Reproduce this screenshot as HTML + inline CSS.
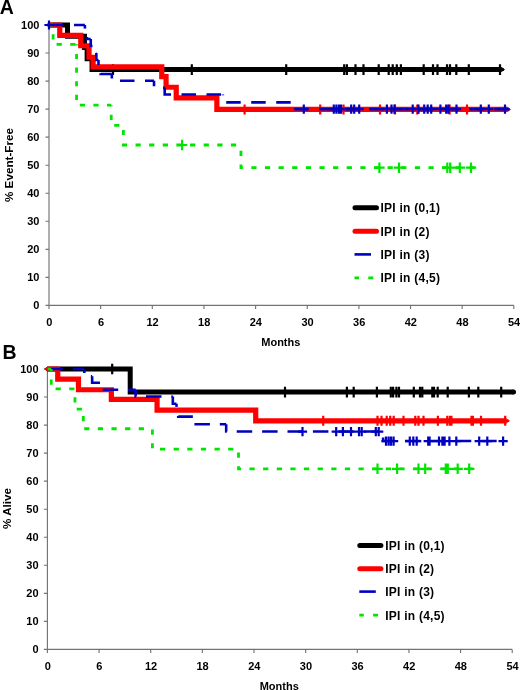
<!DOCTYPE html>
<html><head><meta charset="utf-8"><style>
html,body{margin:0;padding:0;background:#fff;}
svg{display:block;will-change:transform;}
</style></head><body>
<svg width="520" height="690" viewBox="0 0 520 690">
<rect width="520" height="690" fill="#fff"/>
<text x="-0.2" y="13.8" style="font-family:'Liberation Sans',sans-serif;font-weight:bold;font-size:19.5px">A</text>
<path d="M49 25V305.4H513.83M45.5 305.4H49M45.5 277.36H49M45.5 249.32H49M45.5 221.28H49M45.5 193.24H49M45.5 165.2H49M45.5 137.16H49M45.5 109.12H49M45.5 81.08H49M45.5 53.04H49M45.5 25H49M49 305.4V308.9M100.65 305.4V308.9M152.3 305.4V308.9M203.94 305.4V308.9M255.59 305.4V308.9M307.24 305.4V308.9M358.89 305.4V308.9M410.54 305.4V308.9M462.18 305.4V308.9M513.83 305.4V308.9" stroke="#747474" stroke-width="1.15" fill="none"/>
<text x="39.4" y="309.3" text-anchor="end" style="font-family:'Liberation Sans',sans-serif;font-weight:bold;font-size:11px">0</text>
<text x="39.4" y="281.26" text-anchor="end" style="font-family:'Liberation Sans',sans-serif;font-weight:bold;font-size:11px">10</text>
<text x="39.4" y="253.22" text-anchor="end" style="font-family:'Liberation Sans',sans-serif;font-weight:bold;font-size:11px">20</text>
<text x="39.4" y="225.18" text-anchor="end" style="font-family:'Liberation Sans',sans-serif;font-weight:bold;font-size:11px">30</text>
<text x="39.4" y="197.14" text-anchor="end" style="font-family:'Liberation Sans',sans-serif;font-weight:bold;font-size:11px">40</text>
<text x="39.4" y="169.1" text-anchor="end" style="font-family:'Liberation Sans',sans-serif;font-weight:bold;font-size:11px">50</text>
<text x="39.4" y="141.06" text-anchor="end" style="font-family:'Liberation Sans',sans-serif;font-weight:bold;font-size:11px">60</text>
<text x="39.4" y="113.02" text-anchor="end" style="font-family:'Liberation Sans',sans-serif;font-weight:bold;font-size:11px">70</text>
<text x="39.4" y="84.98" text-anchor="end" style="font-family:'Liberation Sans',sans-serif;font-weight:bold;font-size:11px">80</text>
<text x="39.4" y="56.94" text-anchor="end" style="font-family:'Liberation Sans',sans-serif;font-weight:bold;font-size:11px">90</text>
<text x="39.4" y="28.9" text-anchor="end" style="font-family:'Liberation Sans',sans-serif;font-weight:bold;font-size:11px">100</text>
<text x="49.3" y="326" text-anchor="middle" style="font-family:'Liberation Sans',sans-serif;font-weight:bold;font-size:11px">0</text>
<text x="100.95" y="326" text-anchor="middle" style="font-family:'Liberation Sans',sans-serif;font-weight:bold;font-size:11px">6</text>
<text x="152.6" y="326" text-anchor="middle" style="font-family:'Liberation Sans',sans-serif;font-weight:bold;font-size:11px">12</text>
<text x="204.24" y="326" text-anchor="middle" style="font-family:'Liberation Sans',sans-serif;font-weight:bold;font-size:11px">18</text>
<text x="255.89" y="326" text-anchor="middle" style="font-family:'Liberation Sans',sans-serif;font-weight:bold;font-size:11px">24</text>
<text x="307.54" y="326" text-anchor="middle" style="font-family:'Liberation Sans',sans-serif;font-weight:bold;font-size:11px">30</text>
<text x="359.19" y="326" text-anchor="middle" style="font-family:'Liberation Sans',sans-serif;font-weight:bold;font-size:11px">36</text>
<text x="410.84" y="326" text-anchor="middle" style="font-family:'Liberation Sans',sans-serif;font-weight:bold;font-size:11px">42</text>
<text x="462.48" y="326" text-anchor="middle" style="font-family:'Liberation Sans',sans-serif;font-weight:bold;font-size:11px">48</text>
<text x="514.13" y="326" text-anchor="middle" style="font-family:'Liberation Sans',sans-serif;font-weight:bold;font-size:11px">54</text>
<text x="280.82" y="346.3" text-anchor="middle" style="font-family:'Liberation Sans',sans-serif;font-weight:bold;font-size:11px">Months</text>
<text transform="translate(9.2,165) rotate(-90)" x="0" y="3.9" text-anchor="middle" style="font-family:'Liberation Sans',sans-serif;font-weight:bold;font-size:11.7px">% Event-Free</text>
<path d="M49 25H67.51V36.22H84.46V47.43H87.13V58.65H92.04V69.58H501.78" stroke="#000000" stroke-width="5.0" fill="none"/>
<path d="M49.2 22.5L45.8 25L49.2 27.5Z" fill="#000000"/>
<path d="M501.58 67.08L504.98 69.58L501.58 72.08Z" fill="#000000"/>
<path d="M113 64.28V74.88M109 69.58H117M191.8 64.28V74.88M187.8 69.58H195.8M286.2 64.28V74.88M282.2 69.58H290.2M344.2 64.28V74.88M340.2 69.58H348.2M346.9 64.28V74.88M342.9 69.58H350.9M355.5 64.28V74.88M351.5 69.58H359.5M363.5 64.28V74.88M359.5 69.58H367.5M378.7 64.28V74.88M374.7 69.58H382.7M388.7 64.28V74.88M384.7 69.58H392.7M392.7 64.28V74.88M388.7 69.58H396.7M396.8 64.28V74.88M392.8 69.58H400.8M400.9 64.28V74.88M396.9 69.58H404.9M423.7 64.28V74.88M419.7 69.58H427.7M433 64.28V74.88M429 69.58H437M437.5 64.28V74.88M433.5 69.58H441.5M447 64.28V74.88M443 69.58H451M450 64.28V74.88M446 69.58H454M456.3 64.28V74.88M452.3 69.58H460.3M468.8 64.28V74.88M464.8 69.58H472.8M500 64.28V74.88M496 69.58H504" stroke="#000000" stroke-width="2.2" fill="none"/>
<path d="M49 25H59.76V35.37H80.76V45.75H89.03V57.25H93.07V66.78H161.76V76.59H166.07V87.25H176.23V97.9H216.86V109.4H507.81" stroke="#ff0000" stroke-width="5.2" fill="none"/>
<path d="M49.2 22.4L45.8 25L49.2 27.6Z" fill="#ff0000"/>
<path d="M507.61 106.8L511.01 109.4L507.61 112Z" fill="#ff0000"/>
<path d="M244.6 104.4V114.4M240.6 109.4H248.6M320.2 104.4V114.4M316.2 109.4H324.2M343.5 104.4V114.4M339.5 109.4H347.5M380 104.4V114.4M376 109.4H384M395 104.4V114.4M391 109.4H399M417.3 104.4V114.4M413.3 109.4H421.3M449.6 104.4V114.4M445.6 109.4H453.6M467 104.4V114.4M463 109.4H471" stroke="#ff0000" stroke-width="2.2" fill="none"/>
<path d="M49 25H53.13" stroke="#00e400" stroke-width="2.8" fill="none" stroke-dasharray="5.2 8.43" stroke-dashoffset="0"/>
<path d="M53.13 25V44.35H76.55" stroke="#00e400" stroke-width="2.8" fill="none" stroke-dasharray="5.2 8.43" stroke-dashoffset="4.44"/>
<path d="M76.55 44.35V105.19H111.24" stroke="#00e400" stroke-width="2.8" fill="none" stroke-dasharray="5.2 8.43" stroke-dashoffset="4.08"/>
<path d="M111.24 105.19V125.38H123.37" stroke="#00e400" stroke-width="2.8" fill="none" stroke-dasharray="5.2 8.43" stroke-dashoffset="4.11"/>
<path d="M123.37 125.38V145.01H240.96" stroke="#00e400" stroke-width="2.8" fill="none" stroke-dasharray="5.2 8.43" stroke-dashoffset="9.11"/>
<path d="M240.96 145.01V167.72H475.96" stroke="#00e400" stroke-width="2.8" fill="none" stroke-dasharray="5.2 8.43" stroke-dashoffset="7.84"/>
<path d="M182.1 139.81V150.21M176.9 145.01H187.3M379.4 162.52V172.92M374.2 167.72H384.6M399 162.52V172.92M393.8 167.72H404.2M447.3 162.52V172.92M442.1 167.72H452.5M450.2 162.52V172.92M445 167.72H455.4M459.8 162.52V172.92M454.6 167.72H465M471 162.52V172.92M465.8 167.72H476.2" stroke="#00e400" stroke-width="2.2" fill="none"/>
<path d="M49 25H84.9" stroke="#0000c0" stroke-width="2.6" fill="none" stroke-dasharray="14.5 10.5" stroke-dashoffset="0"/>
<path d="M84.9 25V32.01H86.88" stroke="#0000c0" stroke-width="2.6" fill="none" stroke-dasharray="14.5 10.5" stroke-dashoffset="10.9"/>
<path d="M86.88 32.01V39.02H90.75" stroke="#0000c0" stroke-width="2.6" fill="none" stroke-dasharray="14.5 10.5" stroke-dashoffset="19.89"/>
<path d="M90.75 39.02V46.03H94.62" stroke="#0000c0" stroke-width="2.6" fill="none" stroke-dasharray="14.5 10.5" stroke-dashoffset="5.77"/>
<path d="M94.62 46.03V53.04H96.34" stroke="#0000c0" stroke-width="2.6" fill="none" stroke-dasharray="14.5 10.5" stroke-dashoffset="16.65"/>
<path d="M96.34 53.04V60.05H98.5" stroke="#0000c0" stroke-width="2.6" fill="none" stroke-dasharray="14.5 10.5" stroke-dashoffset="0.38"/>
<path d="M98.5 60.05V67.06H100.65" stroke="#0000c0" stroke-width="2.6" fill="none" stroke-dasharray="14.5 10.5" stroke-dashoffset="9.55"/>
<path d="M100.65 67.06V74.07H111.84" stroke="#0000c0" stroke-width="2.6" fill="none" stroke-dasharray="14.5 10.5" stroke-dashoffset="18.71"/>
<path d="M111.84 74.07V80.8H154.02" stroke="#0000c0" stroke-width="2.6" fill="none" stroke-dasharray="14.5 10.5" stroke-dashoffset="10.11"/>
<path d="M154.02 80.8V87.81H164.69" stroke="#0000c0" stroke-width="2.6" fill="none" stroke-dasharray="14.5 10.5" stroke-dashoffset="9.02"/>
<path d="M164.69 87.81V94.54H222.88" stroke="#0000c0" stroke-width="2.6" fill="none" stroke-dasharray="14.5 10.5" stroke-dashoffset="1.46"/>
<path d="M222.88 94.54V102.39H293.47" stroke="#0000c0" stroke-width="2.6" fill="none" stroke-dasharray="14.5 10.5" stroke-dashoffset="13.83"/>
<path d="M293.47 102.39V109.12H508.67" stroke="#0000c0" stroke-width="2.6" fill="none" stroke-dasharray="14.5 10.5" stroke-dashoffset="17.54"/>
<path d="M49 20.4V29.6M44.4 25H53.6M303.8 104.52V113.72M299.2 109.12H308.4M333.8 104.52V113.72M329.2 109.12H338.4M336.4 104.52V113.72M331.8 109.12H341M339 104.52V113.72M334.4 109.12H343.6M341 104.52V113.72M336.4 109.12H345.6M351.2 104.52V113.72M346.6 109.12H355.8M354.2 104.52V113.72M349.6 109.12H358.8M359.2 104.52V113.72M354.6 109.12H363.8M386.9 104.52V113.72M382.3 109.12H391.5M391.5 104.52V113.72M386.9 109.12H396.1M394.5 104.52V113.72M389.9 109.12H399.1M412.7 104.52V113.72M408.1 109.12H417.3M418.5 104.52V113.72M413.9 109.12H423.1M424.2 104.52V113.72M419.6 109.12H428.8M427.7 104.52V113.72M423.1 109.12H432.3M431.2 104.52V113.72M426.6 109.12H435.8M440.4 104.52V113.72M435.8 109.12H445M446.2 104.52V113.72M441.6 109.12H450.8M448.5 104.52V113.72M443.9 109.12H453.1M456.5 104.52V113.72M451.9 109.12H461.1M480.8 104.52V113.72M476.2 109.12H485.4M488.8 104.52V113.72M484.2 109.12H493.4M505 104.52V113.72M500.4 109.12H509.6" stroke="#0000c0" stroke-width="2.2" fill="none"/>
<path d="M355 207.8H376.5" stroke="#000000" stroke-width="5" stroke-linecap="round"/>
<path d="M355 231.2H376.5" stroke="#ff0000" stroke-width="5" stroke-linecap="round"/>
<path d="M354.5 254.4H371" stroke="#0000c0" stroke-width="2.6"/>
<path d="M354.5 277.8h4.5M368.3 277.8h5" stroke="#00e400" stroke-width="2.8"/>
<text x="380.5" y="212.1" style="font-family:'Liberation Sans',sans-serif;font-weight:bold;font-size:12px;letter-spacing:0.25px">IPI in (0,1)</text>
<text x="380.5" y="235.5" style="font-family:'Liberation Sans',sans-serif;font-weight:bold;font-size:12px;letter-spacing:0.25px">IPI in (2)</text>
<text x="380.5" y="258.7" style="font-family:'Liberation Sans',sans-serif;font-weight:bold;font-size:12px;letter-spacing:0.25px">IPI in (3)</text>
<text x="380.5" y="282.1" style="font-family:'Liberation Sans',sans-serif;font-weight:bold;font-size:12px;letter-spacing:0.25px">IPI in (4,5)</text>
<text x="2.4" y="359.3" style="font-family:'Liberation Sans',sans-serif;font-weight:bold;font-size:19.5px">B</text>
<path d="M47.4 369V649.4H512.23M43.9 649.4H47.4M43.9 621.36H47.4M43.9 593.32H47.4M43.9 565.28H47.4M43.9 537.24H47.4M43.9 509.2H47.4M43.9 481.16H47.4M43.9 453.12H47.4M43.9 425.08H47.4M43.9 397.04H47.4M43.9 369H47.4M47.4 649.4V652.9M99.05 649.4V652.9M150.7 649.4V652.9M202.34 649.4V652.9M253.99 649.4V652.9M305.64 649.4V652.9M357.29 649.4V652.9M408.94 649.4V652.9M460.58 649.4V652.9M512.23 649.4V652.9" stroke="#747474" stroke-width="1.15" fill="none"/>
<text x="38.6" y="653.3" text-anchor="end" style="font-family:'Liberation Sans',sans-serif;font-weight:bold;font-size:11px">0</text>
<text x="38.6" y="625.26" text-anchor="end" style="font-family:'Liberation Sans',sans-serif;font-weight:bold;font-size:11px">10</text>
<text x="38.6" y="597.22" text-anchor="end" style="font-family:'Liberation Sans',sans-serif;font-weight:bold;font-size:11px">20</text>
<text x="38.6" y="569.18" text-anchor="end" style="font-family:'Liberation Sans',sans-serif;font-weight:bold;font-size:11px">30</text>
<text x="38.6" y="541.14" text-anchor="end" style="font-family:'Liberation Sans',sans-serif;font-weight:bold;font-size:11px">40</text>
<text x="38.6" y="513.1" text-anchor="end" style="font-family:'Liberation Sans',sans-serif;font-weight:bold;font-size:11px">50</text>
<text x="38.6" y="485.06" text-anchor="end" style="font-family:'Liberation Sans',sans-serif;font-weight:bold;font-size:11px">60</text>
<text x="38.6" y="457.02" text-anchor="end" style="font-family:'Liberation Sans',sans-serif;font-weight:bold;font-size:11px">70</text>
<text x="38.6" y="428.98" text-anchor="end" style="font-family:'Liberation Sans',sans-serif;font-weight:bold;font-size:11px">80</text>
<text x="38.6" y="400.94" text-anchor="end" style="font-family:'Liberation Sans',sans-serif;font-weight:bold;font-size:11px">90</text>
<text x="38.6" y="372.9" text-anchor="end" style="font-family:'Liberation Sans',sans-serif;font-weight:bold;font-size:11px">100</text>
<text x="47.7" y="670.1" text-anchor="middle" style="font-family:'Liberation Sans',sans-serif;font-weight:bold;font-size:11px">0</text>
<text x="99.35" y="670.1" text-anchor="middle" style="font-family:'Liberation Sans',sans-serif;font-weight:bold;font-size:11px">6</text>
<text x="151" y="670.1" text-anchor="middle" style="font-family:'Liberation Sans',sans-serif;font-weight:bold;font-size:11px">12</text>
<text x="202.64" y="670.1" text-anchor="middle" style="font-family:'Liberation Sans',sans-serif;font-weight:bold;font-size:11px">18</text>
<text x="254.29" y="670.1" text-anchor="middle" style="font-family:'Liberation Sans',sans-serif;font-weight:bold;font-size:11px">24</text>
<text x="305.94" y="670.1" text-anchor="middle" style="font-family:'Liberation Sans',sans-serif;font-weight:bold;font-size:11px">30</text>
<text x="357.59" y="670.1" text-anchor="middle" style="font-family:'Liberation Sans',sans-serif;font-weight:bold;font-size:11px">36</text>
<text x="409.24" y="670.1" text-anchor="middle" style="font-family:'Liberation Sans',sans-serif;font-weight:bold;font-size:11px">42</text>
<text x="460.88" y="670.1" text-anchor="middle" style="font-family:'Liberation Sans',sans-serif;font-weight:bold;font-size:11px">48</text>
<text x="512.53" y="670.1" text-anchor="middle" style="font-family:'Liberation Sans',sans-serif;font-weight:bold;font-size:11px">54</text>
<text x="279.22" y="689.6" text-anchor="middle" style="font-family:'Liberation Sans',sans-serif;font-weight:bold;font-size:11px">Months</text>
<text transform="translate(7.5,508.5) rotate(-90)" x="0" y="3.9" text-anchor="middle" style="font-family:'Liberation Sans',sans-serif;font-weight:bold;font-size:11.7px">% Alive</text>
<path d="M47.4 369H130.21V392.1H513.52" stroke="#000000" stroke-width="5.0" fill="none"/>
<path d="M47.6 366.5L44.2 369L47.6 371.5Z" fill="#000000"/>
<circle cx="513.52" cy="392.1" r="2.5" fill="#000000"/>
<path d="M112.2 363.7V374.3M108.2 369H116.2M285 386.8V397.4M281 392.1H289M346.9 386.8V397.4M342.9 392.1H350.9M353.7 386.8V397.4M349.7 392.1H357.7M376.9 386.8V397.4M372.9 392.1H380.9M390.8 386.8V397.4M386.8 392.1H394.8M393.1 386.8V397.4M389.1 392.1H397.1M396.4 386.8V397.4M392.4 392.1H400.4M399 386.8V397.4M395 392.1H403M413.8 386.8V397.4M409.8 392.1H417.8M420 386.8V397.4M416 392.1H424M422.3 386.8V397.4M418.3 392.1H426.3M432.3 386.8V397.4M428.3 392.1H436.3M434 386.8V397.4M430 392.1H438M437.7 386.8V397.4M433.7 392.1H441.7M447.7 386.8V397.4M443.7 392.1H451.7M468.9 386.8V397.4M464.9 392.1H472.9M478.3 386.8V397.4M474.3 392.1H482.3M501.2 386.8V397.4M497.2 392.1H505.2" stroke="#000000" stroke-width="2.2" fill="none"/>
<path d="M47.4 369H57.73V379.09H78.47V389.75H111.36V399.28H157.07V410.22H255.71V420.87H506.46" stroke="#ff0000" stroke-width="5.2" fill="none"/>
<path d="M47.6 366.4L44.2 369L47.6 371.6Z" fill="#ff0000"/>
<path d="M506.26 418.27L509.66 420.87L506.26 423.47Z" fill="#ff0000"/>
<path d="M323.2 415.87V425.87M319.2 420.87H327.2M377.5 415.87V425.87M373.5 420.87H381.5M381.5 415.87V425.87M377.5 420.87H385.5M386.7 415.87V425.87M382.7 420.87H390.7M390.2 415.87V425.87M386.2 420.87H394.2M393.7 415.87V425.87M389.7 420.87H397.7M403.5 415.87V425.87M399.5 420.87H407.5M415.3 415.87V425.87M411.3 420.87H419.3M418.5 415.87V425.87M414.5 420.87H422.5M423.5 415.87V425.87M419.5 420.87H427.5M437.9 415.87V425.87M433.9 420.87H441.9M447.3 415.87V425.87M443.3 420.87H451.3M450 415.87V425.87M446 420.87H454M451.4 415.87V425.87M447.4 420.87H455.4M471.5 415.87V425.87M467.5 420.87H475.5M472.9 415.87V425.87M468.9 420.87H476.9M481 415.87V425.87M477 420.87H485M505.2 415.87V425.87M501.2 420.87H509.2" stroke="#ff0000" stroke-width="2.2" fill="none"/>
<path d="M47.4 369H84.33" stroke="#0000c0" stroke-width="2.6" fill="none" stroke-dasharray="15.5 9.9" stroke-dashoffset="0"/>
<path d="M84.33 369V376.29H92.16" stroke="#0000c0" stroke-width="2.6" fill="none" stroke-dasharray="15.5 9.9" stroke-dashoffset="11.53"/>
<path d="M92.16 376.29V382.74H101.63" stroke="#0000c0" stroke-width="2.6" fill="none" stroke-dasharray="15.5 9.9" stroke-dashoffset="1.25"/>
<path d="M101.63 382.74V389.75H135.63" stroke="#0000c0" stroke-width="2.6" fill="none" stroke-dasharray="15.5 9.9" stroke-dashoffset="17.32"/>
<path d="M135.63 389.75V396.48H172.82" stroke="#0000c0" stroke-width="2.6" fill="none" stroke-dasharray="15.5 9.9" stroke-dashoffset="8.3"/>
<path d="M172.82 396.48V403.77H176.52" stroke="#0000c0" stroke-width="2.6" fill="none" stroke-dasharray="15.5 9.9" stroke-dashoffset="1.42"/>
<path d="M176.52 403.77V410.5H178.24" stroke="#0000c0" stroke-width="2.6" fill="none" stroke-dasharray="15.5 9.9" stroke-dashoffset="12.41"/>
<path d="M178.24 410.5V416.67H192.88" stroke="#0000c0" stroke-width="2.6" fill="none" stroke-dasharray="15.5 9.9" stroke-dashoffset="19.97"/>
<path d="M192.88 416.67V424.24H226.19" stroke="#0000c0" stroke-width="2.6" fill="none" stroke-dasharray="15.5 9.9" stroke-dashoffset="16.3"/>
<path d="M226.19 424.24V431.53H383.11" stroke="#0000c0" stroke-width="2.6" fill="none" stroke-dasharray="15.5 9.9" stroke-dashoffset="7.6"/>
<path d="M383.11 431.53V441.06H507.07" stroke="#0000c0" stroke-width="2.6" fill="none" stroke-dasharray="15.5 9.9" stroke-dashoffset="19.41"/>
<path d="M302.5 426.93V436.13M297.9 431.53H307.1M336.2 426.93V436.13M331.6 431.53H340.8M342.9 426.93V436.13M338.3 431.53H347.5M351 426.93V436.13M346.4 431.53H355.6M359 426.93V436.13M354.4 431.53H363.6M361.7 426.93V436.13M357.1 431.53H366.3M375.8 426.93V436.13M371.2 431.53H380.4M378.7 426.93V436.13M374.1 431.53H383.3M386 436.46V445.66M381.4 441.06H390.6M388.6 436.46V445.66M384 441.06H393.2M391 436.46V445.66M386.4 441.06H395.6M393.6 436.46V445.66M389 441.06H398.2M409.8 436.46V445.66M405.2 441.06H414.4M413.3 436.46V445.66M408.7 441.06H417.9M416.7 436.46V445.66M412.1 441.06H421.3M428.2 436.46V445.66M423.6 441.06H432.8M429.6 436.46V445.66M425 441.06H434.2M439 436.46V445.66M434.4 441.06H443.6M442.4 436.46V445.66M437.8 441.06H447M444.6 436.46V445.66M440 441.06H449.2M449.4 436.46V445.66M444.8 441.06H454M456.3 436.46V445.66M451.7 441.06H460.9M479.2 436.46V445.66M474.6 441.06H483.8M487.3 436.46V445.66M482.7 441.06H491.9M503.1 436.46V445.66M498.5 441.06H507.7" stroke="#0000c0" stroke-width="2.2" fill="none"/>
<path d="M47.4 369H51.27" stroke="#00e400" stroke-width="2.8" fill="none" stroke-dasharray="5.2 8.43" stroke-dashoffset="0"/>
<path d="M51.27 369V388.91H74.95" stroke="#00e400" stroke-width="2.8" fill="none" stroke-dasharray="5.2 8.43" stroke-dashoffset="3.03"/>
<path d="M74.95 388.91V409.1H83.3" stroke="#00e400" stroke-width="2.8" fill="none" stroke-dasharray="5.2 8.43" stroke-dashoffset="5.32"/>
<path d="M83.3 409.1V428.73H152.42" stroke="#00e400" stroke-width="2.8" fill="none" stroke-dasharray="5.2 8.43" stroke-dashoffset="6.73"/>
<path d="M152.42 428.73V449.19H238.5" stroke="#00e400" stroke-width="2.8" fill="none" stroke-dasharray="5.2 8.43" stroke-dashoffset="12.84"/>
<path d="M238.5 449.19V468.82H475.22" stroke="#00e400" stroke-width="2.8" fill="none" stroke-dasharray="5.2 8.43" stroke-dashoffset="10.26"/>
<path d="M377.5 463.62V474.02M372.3 468.82H382.7M397.1 463.62V474.02M391.9 468.82H402.3M418.5 463.62V474.02M413.3 468.82H423.7M425.2 463.62V474.02M420 468.82H430.4M445.8 463.62V474.02M440.6 468.82H451M447.8 463.62V474.02M442.6 468.82H453M457.7 463.62V474.02M452.5 468.82H462.9M469.2 463.62V474.02M464 468.82H474.4" stroke="#00e400" stroke-width="2.2" fill="none"/>
<path d="M359.8 545.4H380.9" stroke="#000000" stroke-width="5" stroke-linecap="round"/>
<path d="M359.8 568.7H380.9" stroke="#ff0000" stroke-width="5" stroke-linecap="round"/>
<path d="M359.3 591.6H375.8" stroke="#0000c0" stroke-width="2.6"/>
<path d="M359.3 615.2h4.5M373.1 615.2h5" stroke="#00e400" stroke-width="2.8"/>
<text x="385.2" y="549.7" style="font-family:'Liberation Sans',sans-serif;font-weight:bold;font-size:12px;letter-spacing:0.25px">IPI in (0,1)</text>
<text x="385.2" y="573" style="font-family:'Liberation Sans',sans-serif;font-weight:bold;font-size:12px;letter-spacing:0.25px">IPI in (2)</text>
<text x="385.2" y="595.9" style="font-family:'Liberation Sans',sans-serif;font-weight:bold;font-size:12px;letter-spacing:0.25px">IPI in (3)</text>
<text x="385.2" y="619.5" style="font-family:'Liberation Sans',sans-serif;font-weight:bold;font-size:12px;letter-spacing:0.25px">IPI in (4,5)</text>
</svg>
</body></html>
